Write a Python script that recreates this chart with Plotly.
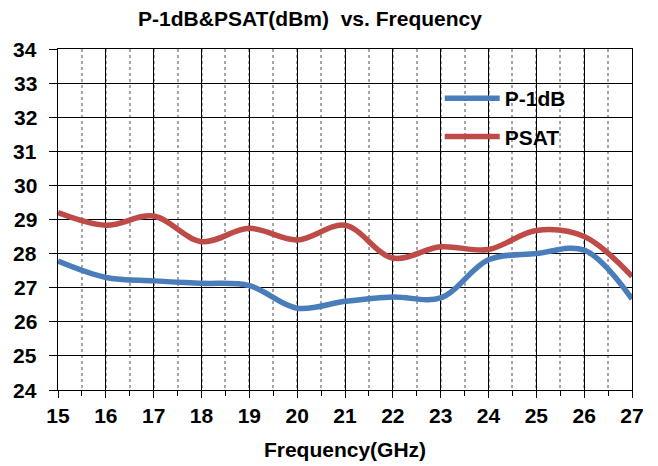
import plotly.graph_objects as go

freq = [15, 16, 17, 18, 19, 20, 21, 22, 23, 24, 25, 26, 27]
p1db = [27.78, 27.3, 27.2, 27.13, 27.06, 26.4, 26.6, 26.73, 26.7, 27.82, 28.0, 28.1, 26.67]
psat = [29.2, 28.83, 29.1, 28.35, 28.74, 28.4, 28.83, 27.87, 28.2, 28.12, 28.68, 28.5, 27.33]
x_ticks = list(range(15, 28))
y_ticks = list(range(24, 35))

FONT = "Liberation Sans, Arial, sans-serif"

fig = go.Figure()
fig.add_trace(go.Scatter(x=freq, y=p1db, mode="lines", name="<b>P-1dB</b>", legendgroup="a",
                         line=dict(color="#4a7ebb", width=5.5, shape="spline", smoothing=1)))
fig.add_trace(go.Scatter(x=freq, y=psat, mode="lines", name="<b>PSAT</b>", legendgroup="b",
                         line=dict(color="#be4b48", width=5.5, shape="spline", smoothing=1)))

# white box behind legend (covers gridlines)
fig.add_shape(type="rect", xref="paper", yref="paper", x0=0.643, x1=0.920, y0=0.683, y1=0.918,
              fillcolor="white", line=dict(width=0), layer="between")

# y tick labels (placed a little further from the axis than plotly's default)
for v in y_ticks:
    fig.add_annotation(x=0, xref="paper", y=v, yref="y", text=f"<b>{v}</b>", showarrow=False,
                       xanchor="right", yanchor="middle", xshift=-19,
                       font=dict(size=21, family=FONT, color="black"))

fig.update_layout(
    width=658, height=466,
    margin=dict(l=50, r=34, t=41, b=84),
    paper_bgcolor="white", plot_bgcolor="white",
    font=dict(family=FONT, color="black"),
    title=dict(text="<b>P-1dB&amp;PSAT(dBm)  vs. Frequency</b>", x=0.439, xref="paper", xanchor="center",
               y=1 - 11 / 466, yref="container", yanchor="middle",
               font=dict(size=21, family=FONT, color="black")),
    showlegend=True,
    legend=dict(x=0.665, y=0.915, xanchor="left", yanchor="top", bgcolor="rgba(0,0,0,0)",
                font=dict(size=21, family=FONT, color="black"), tracegroupgap=8,
                itemwidth=55),
    xaxis=dict(range=[15, 27], tickvals=x_ticks, ticktext=[f"<b>{v}</b>" for v in x_ticks],
               automargin=False,
               showgrid=True, gridcolor="black", gridwidth=1,
               showline=True, linecolor="black", linewidth=1, mirror=True,
               ticks="outside", ticklen=7, tickcolor="black", tickwidth=1,
               tickfont=dict(size=21, family=FONT, color="black"),
               minor=dict(dtick=0.5, showgrid=True, gridcolor="#a6a6a6", griddash="dot", gridwidth=1.5,
                          ticks="outside", ticklen=5, tickcolor="black"),
               title=dict(text="<b>Frequency(GHz)</b>", font=dict(size=21, family=FONT, color="black"),
                          standoff=16),
               zeroline=False),
    yaxis=dict(range=[24, 34], tickvals=y_ticks, showticklabels=False,
               automargin=False,
               showgrid=True, gridcolor="black", gridwidth=1,
               showline=True, linecolor="black", linewidth=1, mirror=True,
               ticks="outside", ticklen=8, tickcolor="black", tickwidth=1,
               zeroline=False),
)

fig.write_html("out.html")
